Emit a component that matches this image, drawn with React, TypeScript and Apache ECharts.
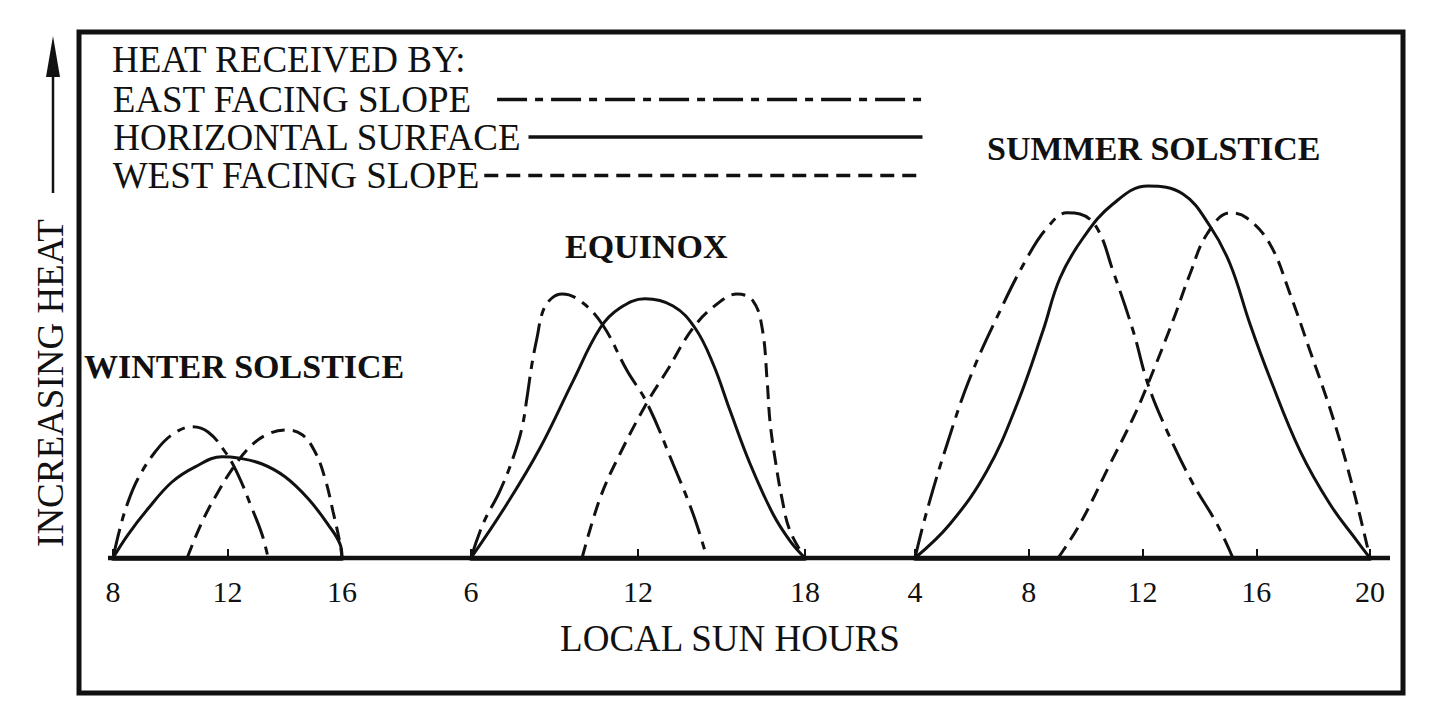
import React, { useEffect, useRef } from 'react';
import * as echarts from 'echarts';

// ---- data (x = local sun hour, y = relative heat, 0..100) ----
const SERIES_NAMES = ['EAST FACING SLOPE', 'HORIZONTAL SURFACE', 'WEST FACING SLOPE'];
const SEASON_LABELS = ['WINTER SOLSTICE', 'EQUINOX', 'SUMMER SOLSTICE'];

const winterHours = [8, 16];
const equinoxHours = [6, 18];
const summerHours = [4, 20];
const winterTickStep = 4;
const equinoxTickStep = 6;
const summerTickStep = 4;

const winterEast = [[8, 0], [8.24, 7.3], [8.49, 13.3], [8.87, 19.8], [9.47, 26.5], [10.06, 30.8], [10.76, 32.8], [11.32, 31.5], [11.92, 26.5], [12.37, 20.8], [12.86, 12.3], [13.21, 5.8], [13.42, 0]];
const winterHoriz = [[8, 0], [8.52, 5.8], [9.22, 12.3], [10.06, 19], [10.87, 22.8], [11.81, 25.3], [12.37, 25], [13.21, 23.5], [14.01, 20.3], [14.82, 14.8], [15.52, 8.3], [15.94, 3.3], [16, 0]];
const winterWest = [[10.59, 0], [11.11, 9], [11.67, 16.5], [12.27, 23.3], [12.86, 28.3], [13.42, 31], [14.01, 32], [14.61, 30.8], [15.06, 26.5], [15.41, 19.8], [15.69, 11.5], [15.94, 3.3], [16, 0]];

const equinoxEast = [[6, 0], [6.43, 8.5], [7.04, 16.8], [7.51, 25], [7.83, 32.5], [8.01, 40], [8.19, 48.5], [8.37, 55], [8.59, 61.8], [8.91, 65], [9.27, 66], [9.92, 64.3], [10.71, 58.5], [11.61, 46.8], [12.32, 38.8], [13.26, 23.5], [13.98, 11], [14.48, 0]];
const equinoxHoriz = [[6, 0], [7.29, 13.5], [8.48, 27.5], [9.67, 44.3], [10.64, 57.5], [11.35, 62.5], [12.25, 64.8], [13.26, 63], [14.05, 57.5], [14.7, 48.5], [15.31, 36.8], [16.03, 23.5], [16.85, 11], [17.46, 4.3], [18, 0]];
const equinoxWest = [[9.99, 0], [10.64, 15], [11.35, 26], [12.32, 38.8], [13.04, 46.8], [13.98, 57.5], [14.84, 63.5], [15.56, 66], [16.13, 64.3], [16.46, 57.5], [16.64, 44.3], [16.74, 34.3], [16.92, 25], [17.17, 15], [17.46, 6.8], [18, 0]];

const summerEast = [[4, 0], [4.42, 11.8], [5.13, 28.5], [5.93, 45], [6.99, 61.8], [7.94, 75], [8.64, 82.5], [9.34, 86.3], [9.8, 86], [10.4, 82.5], [10.96, 71.8], [11.67, 56.8], [12.19, 43.5], [12.86, 31.8], [13.78, 18.5], [14.62, 8.5], [15.18, 0]];
const summerHoriz = [[4, 0], [5.23, 8.5], [6.53, 21.8], [7.59, 38.5], [8.5, 56.8], [9.1, 70], [9.91, 80], [10.96, 88.5], [12.19, 93], [13.42, 91], [14.37, 83], [15.08, 73.5], [15.78, 58.5], [16.48, 45], [17.54, 26.8], [18.59, 13.5], [19.54, 4.3], [20, 0]];
const summerWest = [[9.03, 0], [9.8, 8.5], [10.86, 23.5], [11.67, 35], [12.19, 43.5], [13.07, 59.3], [13.67, 71], [14.27, 81], [15.08, 86.3], [15.67, 85], [16.48, 78.5], [17.19, 66], [17.89, 51.8], [18.7, 35], [19.4, 17.5], [20, 0]];

const SERIF = '"Liberation Serif", "Times New Roman", serif';
const INK = '#111';
const DASH_EAST = [30, 8, 8, 8];
const DASH_WEST = [14, 8];

export default function App() {
  const ref = useRef<HTMLDivElement>(null);

  useEffect(() => {
    if (!ref.current) return;
    const chart = echarts.init(ref.current, undefined, { renderer: 'svg' });

    const baseY = 558;
    const gridTop = 158;
    const gridH = baseY - gridTop;
    const grids = [
      { left: 113, top: gridTop, width: 229, height: gridH },
      { left: 471, top: gridTop, width: 334, height: gridH },
      { left: 915, top: gridTop, width: 455, height: gridH },
    ];
    const ranges = [winterHours, equinoxHours, summerHours];
    const steps = [winterTickStep, equinoxTickStep, summerTickStep];

    const xAxes = ranges.map((r, i) => ({
      type: 'value',
      gridIndex: i,
      min: r[0],
      max: r[1],
      interval: steps[i],
      axisLine: { show: true, lineStyle: { color: INK, width: 4.5 } },
      axisTick: { show: true, inside: true, length: 9, lineStyle: { color: INK, width: 2 } },
      axisLabel: {
        show: true, color: INK, fontSize: 30, fontFamily: SERIF, margin: 18,
        showMinLabel: true, showMaxLabel: true,
      },
      splitLine: { show: false },
    }));
    const yAxes = ranges.map((_, i) => ({
      type: 'value', gridIndex: i, min: 0, max: 100, show: false,
    }));

    const sets = [
      [winterEast, winterHoriz, winterWest],
      [equinoxEast, equinoxHoriz, equinoxWest],
      [summerEast, summerHoriz, summerWest],
    ];
    const dashes: any[] = [DASH_EAST, 'solid', DASH_WEST];
    const series: any[] = [];
    sets.forEach((set, g) => {
      set.forEach((data, k) => {
        series.push({
          type: 'line',
          name: SERIES_NAMES[k],
          xAxisIndex: g,
          yAxisIndex: g,
          data,
          smooth: 0.4,
          symbol: 'none',
          lineStyle: { color: INK, width: 3, type: dashes[k] },
          itemStyle: { color: INK },
          emphasis: { disabled: true },
        });
      });
    });

    const legendRows = [
      { name: SERIES_NAMES[0], top: 81, width: 428, pad: 21, dash: DASH_EAST },
      { name: SERIES_NAMES[1], top: 118.5, width: 394, pad: 3, dash: 'solid' },
      { name: SERIES_NAMES[2], top: 157, width: 437, pad: 0, dash: DASH_WEST },
    ];
    const legends = legendRows.map((r) => ({
      data: [r.name],
      left: 112,
      top: r.top,
      padding: 0,
      orient: 'horizontal',
      align: 'right',
      itemWidth: r.width,
      itemHeight: 4,
      selectedMode: false,
      textStyle: { fontSize: 37, fontFamily: SERIF, color: INK, padding: [0, r.pad, 0, 0] },
      itemStyle: { opacity: 0 },
      lineStyle: { width: 3.5, color: INK, type: r.dash },
    }));

    const textEl = (text: string, x: number, y: number, size: number, bold = false, extra: any = {}) => ({
      type: 'text',
      x, y,
      ...extra,
      style: {
        text,
        font: `${bold ? 'bold ' : ''}${size}px ${SERIF}`,
        fill: INK,
        align: extra.align || 'left',
        textAlign: extra.align || 'left',
        verticalAlign: 'middle',
        textVerticalAlign: 'middle',
      },
      silent: true,
    });

    chart.setOption({
      animation: false,
      backgroundColor: '#fff',
      grid: grids,
      xAxis: xAxes,
      yAxis: yAxes,
      legend: legends,
      series,
      graphic: [
        { type: 'rect', shape: { x: 79, y: 32, width: 1324, height: 661 }, style: { fill: 'none', stroke: INK, lineWidth: 5 }, silent: true, z: -1 },
        { type: 'line', shape: { x1: 108, y1: baseY, x2: 1390, y2: baseY }, style: { stroke: INK, lineWidth: 4.5 }, silent: true, z: -1 },
        { type: 'line', shape: { x1: 53, y1: 70, x2: 53, y2: 193 }, style: { stroke: INK, lineWidth: 2.5 }, silent: true },
        { type: 'polygon', shape: { points: [[53, 36], [46, 77], [60, 77]] }, style: { fill: INK }, silent: true },
        { ...textEl('INCREASING HEAT', 50, 383, 37, false, { align: 'center' }), rotation: Math.PI / 2 },
        textEl('HEAT RECEIVED BY:', 112, 59, 37),
        textEl(SEASON_LABELS[0], 84, 366, 34, true),
        textEl(SEASON_LABELS[1], 565, 246, 34, true),
        textEl(SEASON_LABELS[2], 987, 148, 34, true),
        textEl('LOCAL SUN HOURS', 730, 638, 37, false, { align: 'center' }),
      ],
    });

    return () => chart.dispose();
  }, []);

  return (
    <div
      ref={ref}
      style={{ position: 'absolute', left: 0, top: 0, width: 1438, height: 720, background: '#fff' }}
    />
  );
}
